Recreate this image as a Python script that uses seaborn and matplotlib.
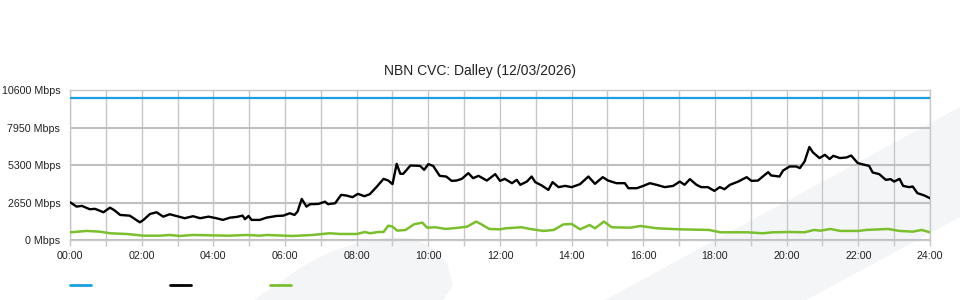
import matplotlib
matplotlib.use("Agg")
import matplotlib.pyplot as plt
from matplotlib.patches import Polygon
from matplotlib.lines import Line2D
import seaborn as sns
import pandas as pd

# ---------------- data ----------------
title = "NBN CVC: Dalley (12/03/2026)"
y_ticks = [0, 2650, 5300, 7950, 10600]
y_tick_labels = ["0 Mbps", "2650 Mbps", "5300 Mbps", "7950 Mbps", "10600 Mbps"]
x_ticks = list(range(0, 25, 2))
x_tick_labels = ["00:00", "02:00", "04:00", "06:00", "08:00", "10:00", "12:00",
                 "14:00", "16:00", "18:00", "20:00", "22:00", "24:00"]

capacity_times = ["00:00", "24:00"]
capacity_values = [10000, 10000]

traffic_times = [
    "00:00", "00:11", "00:20", "00:33", "00:42", "00:56", "01:07", "01:15", "01:24", "01:40",
    "01:57", "02:03", "02:14", "02:25", "02:36", "02:47", "02:58", "03:12", "03:26", "03:38",
    "03:52", "04:05", "04:16", "04:28", "04:39", "04:49", "04:53", "04:59", "05:04", "05:18",
    "05:29", "05:46", "05:57", "06:08", "06:16", "06:21", "06:28", "06:36", "06:42", "06:56",
    "07:07", "07:12", "07:24", "07:34", "07:43", "07:53", "08:02", "08:13", "08:22", "08:34",
    "08:45", "08:53", "09:00", "09:07", "09:13", "09:18", "09:30", "09:46", "09:53", "10:00",
    "10:08", "10:19", "10:30", "10:39", "10:47", "10:56", "11:07", "11:15", "11:24", "11:38",
    "11:52", "12:00", "12:08", "12:20", "12:28", "12:34", "12:45", "12:53", "12:59", "13:10",
    "13:21", "13:28", "13:38", "13:49", "14:00", "14:14", "14:28", "14:39", "14:52", "15:01",
    "15:15", "15:29", "15:35", "15:49", "16:00", "16:11", "16:22", "16:36", "16:50", "17:01",
    "17:09", "17:18", "17:29", "17:37", "17:48", "17:59", "18:08", "18:16", "18:25", "18:39",
    "18:53", "19:01", "19:12", "19:20", "19:29", "19:34", "19:48", "19:54", "20:05", "20:16",
    "20:22", "20:30", "20:38", "20:44", "20:55", "21:04", "21:12", "21:18", "21:29", "21:40",
    "21:48", "21:59", "22:10", "22:18", "22:24", "22:35", "22:46", "22:54", "23:00", "23:09",
    "23:15", "23:25", "23:31", "23:39", "23:51", "24:00",
]
traffic_values = [
    2670, 2360, 2410, 2175, 2200, 1960, 2290, 2080, 1770, 1720,
    1250, 1420, 1840, 1960, 1650, 1820, 1700, 1540, 1680, 1540,
    1650, 1540, 1420, 1580, 1630, 1720, 1470, 1700, 1420, 1420,
    1580, 1700, 1720, 1890, 1770, 2010, 2900, 2360, 2530, 2550,
    2710, 2530, 2600, 3190, 3140, 3025, 3260, 3095, 3240, 3780,
    4320, 4200, 3945, 5385, 4680, 4680, 5265, 5240, 4960, 5360,
    5240, 4535, 4485, 4180, 4200, 4320, 4725, 4370, 4535, 4200,
    4655, 4180, 4320, 4015, 4250, 3900, 4130, 4485, 4090, 3850,
    3540, 4090, 3735, 3825, 3735, 3945, 4485, 3970, 4440, 4200,
    4015, 4015, 3660, 3660, 3825, 4015, 3900, 3735, 3825, 4130,
    3900, 4300, 3900, 3735, 3735, 3470, 3735, 3590, 3900, 4130,
    4440, 4180, 4200, 4485, 4795, 4560, 4485, 4910, 5195, 5195,
    5080, 5550, 6570, 6190, 5790, 6020, 5720, 5950, 5790, 5830,
    5970, 5435, 5315, 5240, 4770, 4655, 4250, 4300, 4130, 4320,
    3825, 3735, 3780, 3310, 3140, 2950,
]

upload_times = [
    "00:00", "00:28", "00:50", "01:07", "01:35", "02:03", "02:31", "02:47", "03:04", "03:26",
    "04:26", "04:56", "05:18", "05:29", "06:13", "06:46", "07:15", "07:32", "08:00", "08:14",
    "08:22", "08:36", "08:45", "08:53", "09:00", "09:08", "09:22", "09:36", "09:50", "09:58",
    "10:12", "10:29", "10:51", "11:05", "11:20", "11:28", "11:42", "12:00", "12:10", "12:36",
    "12:50", "13:13", "13:30", "13:46", "14:00", "14:14", "14:30", "14:39", "14:54", "15:07",
    "15:38", "15:55", "16:22", "17:01", "17:50", "18:09", "18:54", "19:20", "19:37", "20:05",
    "20:30", "20:46", "20:57", "21:13", "21:30", "22:00", "22:13", "22:50", "23:09", "23:31",
    "23:46", "24:00",
]
upload_values = [
    545, 640, 590, 475, 425, 305, 305, 355, 285, 355,
    305, 355, 305, 355, 285, 355, 475, 425, 425, 565,
    475, 565, 565, 1015, 945, 660, 710, 1110, 1225, 870,
    900, 780, 870, 945, 1300, 1130, 780, 755, 828, 900,
    780, 640, 710, 1100, 1135, 755, 1060, 828, 1300, 900,
    870, 990, 830, 755, 710, 545, 545, 475, 545, 565,
    545, 710, 660, 780, 640, 640, 710, 780, 640, 590,
    710, 545,
]

# ---------------- styles ----------------
c_capacity = "#1a9fe0"
c_traffic = "#000000"
c_upload = "#7bbf2e"
grid_c = "#c8c8c8"
wm_c = "#f4f5f7"


def to_hours(t):
    h, m = t.split(":")
    return int(h) + int(m) / 60.0


df_cap = pd.DataFrame({"t": [to_hours(t) for t in capacity_times], "v": capacity_values})
df_tr = pd.DataFrame({"t": [to_hours(t) for t in traffic_times], "v": traffic_values})
df_up = pd.DataFrame({"t": [to_hours(t) for t in upload_times], "v": upload_values})

sns.set_theme(style="white")
plt.rcParams["font.family"] = ["Liberation Sans", "DejaVu Sans"]

W, H = 960, 300
fig = plt.figure(figsize=(W / 100, H / 100), dpi=100)
fig.patch.set_facecolor("white")


def fp(x, y):
    return (x / W, 1 - y / H)


# watermark shapes behind everything
blob = [fp(254, 300), fp(300, 268), fp(330, 252), fp(360, 242), fp(390, 237), fp(410, 238),
        fp(430, 246), fp(447, 263), fp(453, 285), fp(443, 300)]
band = [fp(605, 300), fp(960, 107), fp(960, 217), fp(806, 300)]
for pts in (blob, band):
    fig.patches.append(Polygon(pts, closed=True, transform=fig.transFigure,
                               facecolor=wm_c, edgecolor="none", zorder=-10))

ax = fig.add_axes([70 / W, 1 - 240 / H, 860 / W, 150 / H])
ax.set_facecolor("none")
ax.set_zorder(1)

sns.lineplot(data=df_cap, x="t", y="v", ax=ax, color=c_capacity, linewidth=1.6, zorder=3)
sns.lineplot(data=df_up, x="t", y="v", ax=ax, color=c_upload, linewidth=1.8, zorder=4)
sns.lineplot(data=df_tr, x="t", y="v", ax=ax, color=c_traffic, linewidth=1.7, zorder=5)

ax.set_xlim(0, 24)
ax.set_ylim(0, 10600)
ax.set_xticks(x_ticks)
ax.set_xticklabels(x_tick_labels)
ax.set_xticks(range(0, 25), minor=True)
ax.set_yticks(y_ticks)
ax.set_yticklabels(y_tick_labels)
ax.set_xlabel("")
ax.set_ylabel("")

ax.grid(True, axis="x", which="both", color=grid_c, linewidth=1.0, zorder=1)
ax.grid(True, axis="y", which="major", color="#c0c0c0", linewidth=1.5, zorder=1)
ax.set_axisbelow(True)
for s in ax.spines.values():
    s.set_color(grid_c)
    s.set_linewidth(1.0)

ax.tick_params(axis="x", which="both", length=4, color=grid_c, width=1.0,
               labelsize=7.7, labelcolor="#222222", pad=4, direction="out", bottom=True)
ax.tick_params(axis="y", which="both", length=0, labelsize=7.7, labelcolor="#222222", pad=7)

fig.text(0.5, 1 - 71 / H, title, ha="center", va="center", fontsize=10, color="#222222")

# legend swatches (no text)
for x0, c in ((70, c_capacity), (170, c_traffic), (270, c_upload)):
    fig.add_artist(Line2D([x0 / W, (x0 + 21) / W], [1 - 285 / H, 1 - 285 / H],
                          transform=fig.transFigure, color=c, linewidth=2.0))

fig.savefig("out.png", dpi=100, facecolor="white")
